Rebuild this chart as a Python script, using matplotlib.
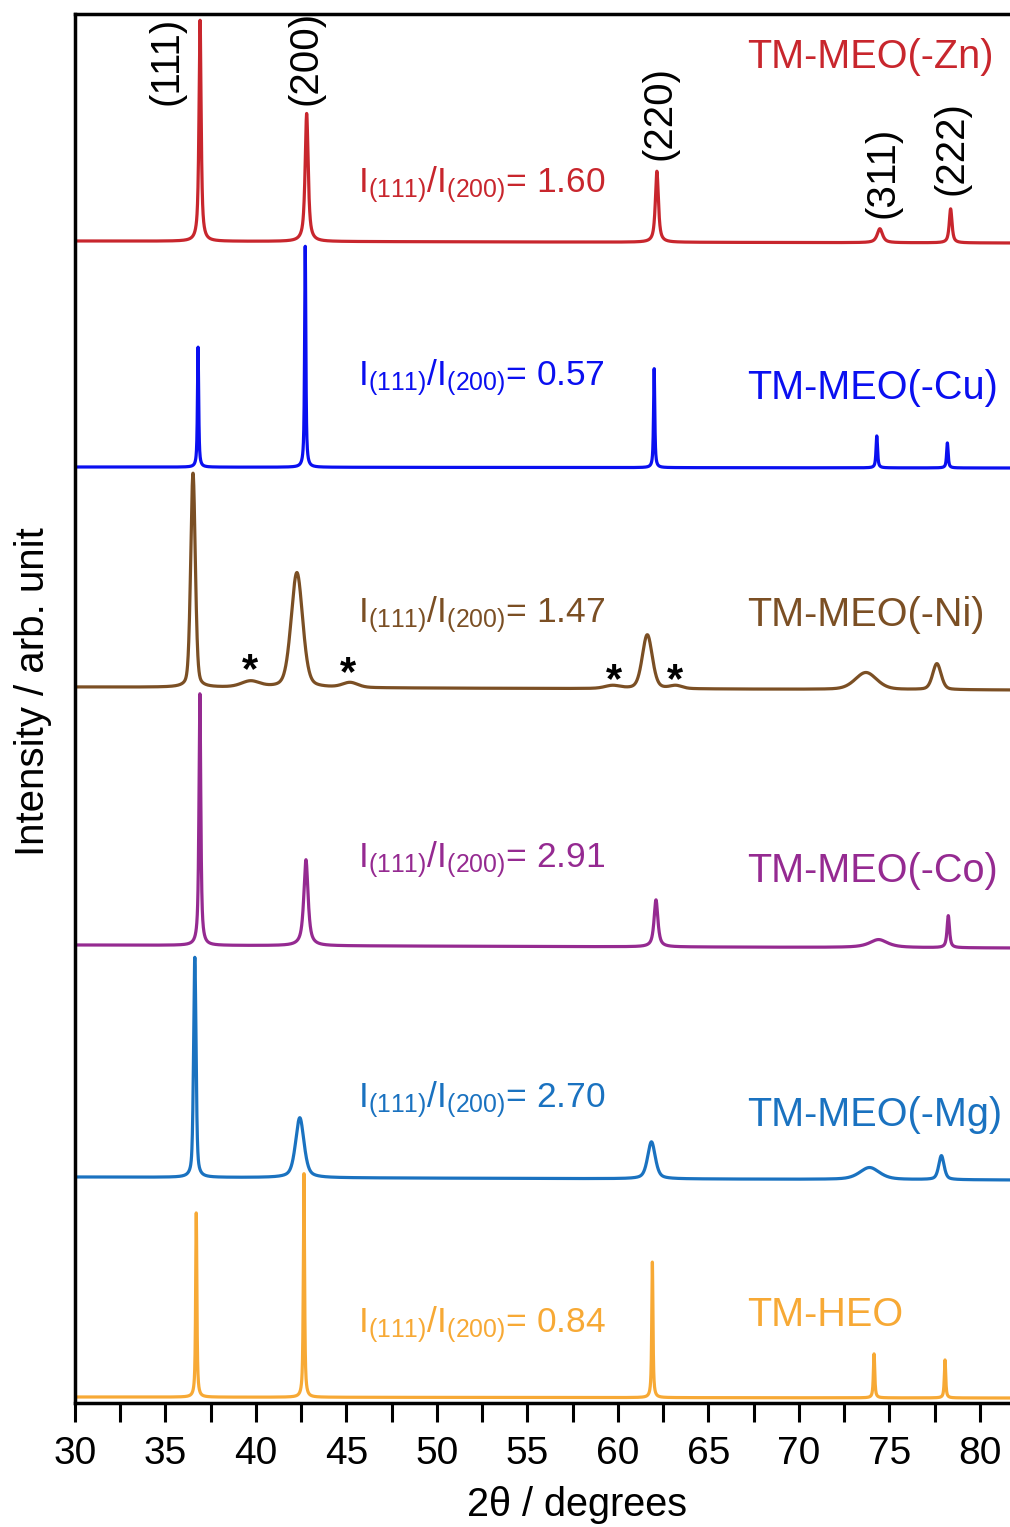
import numpy as np
import matplotlib
matplotlib.use("Agg")
import matplotlib.pyplot as plt
from matplotlib.ticker import MultipleLocator

plt.rcParams['font.family'] = ['Liberation Sans', 'DejaVu Sans']
plt.rcParams['mathtext.fontset'] = 'custom'
plt.rcParams['mathtext.rm'] = 'Liberation Sans'
plt.rcParams['mathtext.it'] = 'Liberation Sans'

# samples, top to bottom
names = ["TM-MEO(-Zn)", "TM-MEO(-Cu)", "TM-MEO(-Ni)", "TM-MEO(-Co)", "TM-MEO(-Mg)", "TM-HEO"]
ratios = ["1.60", "0.57", "1.47", "2.91", "2.70", "0.84"]
colors = ["#c8262d", "#0a0ff0", "#7b4f24", "#952a91", "#1a72c0", "#f7a935"]

# baseline offset (left, right) in arb. units
base_left = [1162, 936, 716, 458, 226, 6]
base_right = [1160, 935, 713, 455, 223, 5]

# peaks: 2theta, height, FWHM
zn_pos = [36.91, 42.80, 62.15, 74.47, 78.38]
zn_h = [221, 128, 71, 14, 34]
zn_w = [0.14, 0.20, 0.20, 0.35, 0.18]

cu_pos = [36.80, 42.72, 62.00, 74.30, 78.20]
cu_h = [120, 222, 99, 32, 25]
cu_w = [0.08, 0.08, 0.08, 0.10, 0.10]

ni_pos = [36.52, 39.70, 42.26, 45.20, 59.70, 61.62, 63.20, 73.70, 77.62]
ni_h = [214, 6, 115, 5, 3, 54, 3, 17, 26]
ni_w = [0.30, 1.20, 0.75, 1.00, 1.00, 0.65, 0.80, 1.40, 0.55]

co_pos = [36.90, 42.76, 62.10, 74.40, 78.25]
co_h = [252, 86, 47, 8, 32]
co_w = [0.12, 0.28, 0.25, 1.20, 0.16]

mg_pos = [36.62, 42.42, 61.85, 73.90, 77.87]
mg_h = [220, 60, 37, 12, 24]
mg_w = [0.16, 0.55, 0.50, 1.30, 0.35]

heo_pos = [36.70, 42.65, 61.90, 74.15, 78.07]
heo_h = [185, 224, 136, 44, 38]
heo_w = [0.08, 0.08, 0.08, 0.09, 0.09]

# pseudo-Voigt mixing (1 = Lorentzian)
etas = [0.8, 0.8, 0.3, 0.8, 0.5, 0.8]

peaks = [(zn_pos, zn_h, zn_w), (cu_pos, cu_h, cu_w), (ni_pos, ni_h, ni_w),
         (co_pos, co_h, co_w), (mg_pos, mg_h, mg_w), (heo_pos, heo_h, heo_w)]

hkl = ["(111)", "(200)", "(220)", "(311)", "(222)"]
hkl_x = [35.08, 42.71, 62.32, 74.64, 78.45]
hkl_y = [1298, 1298, 1243, 1185, 1208]

star_x = [39.67, 45.08, 59.78, 63.15]
star_y = [721, 718, 711, 711]

ratio_y = [1211, 1018, 781, 536, 296, 71]
name_y = [1335, 1004, 777, 521, 277, 77]

XMIN, XMAX = 30, 81.66
tt = np.linspace(XMIN, XMAX, 8000)


def pattern(pos, h, w, eta):
    y = np.zeros_like(tt)
    for p, a, f in zip(pos, h, w):
        g = 0.5 * f
        lor = 1.0 / (1.0 + ((tt - p) / g) ** 2)
        gau = np.exp(-np.log(2) * ((tt - p) / g) ** 2)
        y += a * (eta * lor + (1 - eta) * gau)
    return y


fig = plt.figure(figsize=(10.1, 15.27), dpi=100)
ax = fig.add_axes([75 / 1010, 124 / 1527, 935 / 1010, 1389 / 1527])

for i in range(len(names)):
    pos, h, w = peaks[i]
    base = np.interp(tt, [XMIN, XMAX], [base_left[i], base_right[i]])
    ax.plot(tt, base + pattern(pos, h, w, etas[i]), color=colors[i], lw=2.3)
    ax.text(45.63, ratio_y[i], r"I$_{(111)}$/I$_{(200)}$= " + ratios[i],
            color=colors[i], fontsize=25.5, va='baseline', ha='left')
    ax.text(67.13, name_y[i], names[i], color=colors[i], fontsize=28.5,
            va='baseline', ha='left')

for lab, x, y in zip(hkl, hkl_x, hkl_y):
    ax.text(x, y, lab, rotation=90, ha='center', va='bottom', fontsize=29)

for x, y in zip(star_x, star_y):
    ax.text(x, y, "*", ha='center', va='baseline', fontsize=30, fontweight='bold')

ax.set_xlim(XMIN, XMAX)
ax.set_ylim(0, 1389)
ax.set_yticks([])
ax.xaxis.set_major_locator(MultipleLocator(5))
ax.xaxis.set_minor_locator(MultipleLocator(2.5))
ax.tick_params(axis='x', which='both', direction='out', length=14, width=2.2,
               labelsize=28, pad=10)
for s in ['left', 'bottom', 'top']:
    ax.spines[s].set_linewidth(2.5)
ax.spines['right'].set_visible(False)

fig.text(577 / 1010, 1 - 1505 / 1527, "2θ / degrees", fontsize=28.5,
         ha='center', va='center')
fig.text(33 / 1010, 1 - 692 / 1527, "Intensity / arb. unit", fontsize=29,
         rotation=90, ha='center', va='center')

fig.savefig("out.png", dpi=100)
